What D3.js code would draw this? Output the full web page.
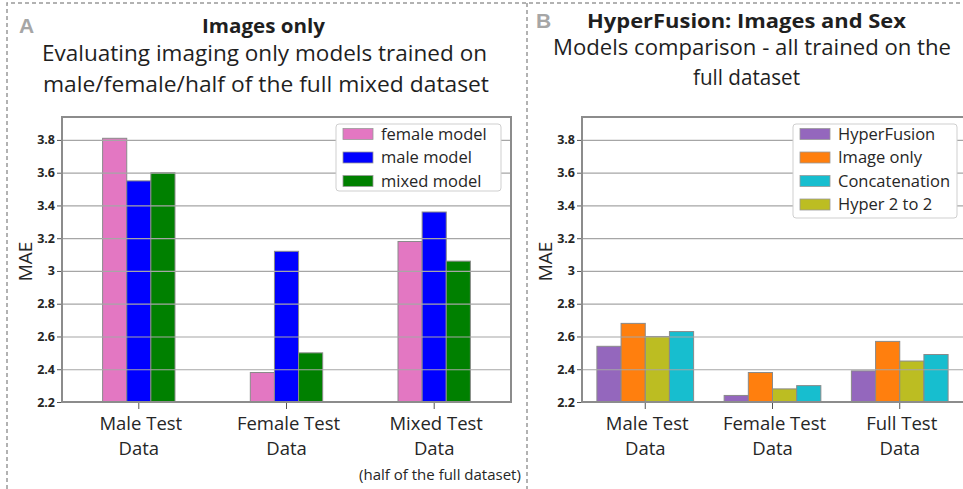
<!DOCTYPE html>
<html>
<head>
<meta charset="utf-8">
<script src="https://cdn.jsdelivr.net/npm/d3@7"></script>
<style>
  body { margin: 0; background: #fff; }
  text { font-family: "Open Sans", sans-serif; fill: #262626; }
</style>
</head>
<body>
<svg id="chart" width="963" height="489"></svg>
<script>
// shared y axis
const yTicks = [2.2, 2.4, 2.6, 2.8, 3.0, 3.2, 3.4, 3.6, 3.8];
const yTickLabels = ['2.2', '2.4', '2.6', '2.8', '3', '3.2', '3.4', '3.6', '3.8'];
const yDomain = [2.2, 3.94];

// panel A: images only
const groupsA = [['Male Test', 'Data'], ['Female Test', 'Data'], ['Mixed Test', 'Data']];
const seriesA = ['female model', 'male model', 'mixed model'];
const femaleModel = [3.81, 2.38, 3.18];
const maleModel = [3.55, 3.12, 3.36];
const mixedModel = [3.60, 2.50, 3.06];

// panel B: hyperfusion
const groupsB = [['Male Test', 'Data'], ['Female Test', 'Data'], ['Full Test', 'Data']];
const seriesB = ['HyperFusion', 'Image only', 'Hyper 2 to 2', 'Concatenation'];
const legendOrderB = ['HyperFusion', 'Image only', 'Concatenation', 'Hyper 2 to 2'];
const hyperFusion = [2.54, 2.24, 2.39];
const imageOnly = [2.68, 2.38, 2.57];
const hyper2to2 = [2.60, 2.28, 2.45];
const concatenation = [2.63, 2.30, 2.49];

const colors = {
  'female model': '#e377c2', 'male model': '#0000ff', 'mixed model': '#008000',
  'HyperFusion': '#9467bd', 'Image only': '#ff7f0e',
  'Hyper 2 to 2': '#bcbd22', 'Concatenation': '#17becf',
};

const svg = d3.select('#chart');
svg.append('rect').attr('width', 963).attr('height', 489).attr('fill', '#fff');

// dashed panel borders
svg.append('path')
  .attr('d', 'M7,489V3H963M527,3V489')
  .attr('fill', 'none')
  .attr('stroke', '#999')
  .attr('stroke-width', 1.5)
  .attr('stroke-dasharray', '4,3');

function drawPanel(p) {
  const g = svg.append('g');
  const y = d3.scaleLinear().domain(yDomain).range([p.bottom, p.top]);
  const x0 = d3.scaleBand()
    .domain(d3.range(p.groups.length))
    .range(p.band)
    .paddingOuter(p.pad);
  const gw = x0.bandwidth() * p.groupFrac;
  const x1 = d3.scaleBand().domain(p.series.map(s => s.name)).range([0, gw]);
  const left = p.left, right = p.right;

  // bars
  p.series.forEach(s => {
    g.selectAll(null)
      .data(s.values)
      .join('rect')
      .attr('x', (d, i) => x0(i) + (x0.bandwidth() - gw) / 2 + x1(s.name))
      .attr('y', d => y(d))
      .attr('width', x1.bandwidth())
      .attr('height', d => y(yDomain[0]) - y(d))
      .attr('fill', colors[s.name])
      .attr('stroke', '#8a8a8a')
      .attr('stroke-width', 1);
  });

  // grid lines sit on top of the bars
  g.append('g')
    .attr('transform', `translate(${left},0)`)
    .call(d3.axisLeft(y).tickValues(yTicks).tickSize(-(right - left)).tickFormat(''))
    .call(a => a.select('.domain').remove())
    .call(a => a.selectAll('line').attr('stroke', '#a6a6a6').attr('stroke-width', 1.2));

  // frame
  g.append('rect')
    .attr('x', left).attr('y', p.top)
    .attr('width', right - left).attr('height', p.bottom - p.top)
    .attr('fill', 'none')
    .attr('stroke', '#8c8c8c')
    .attr('stroke-width', 2);

  // y axis
  g.append('g')
    .attr('transform', `translate(${left - 1},0)`)
    .call(d3.axisLeft(y).tickValues(yTicks).tickSize(4).tickPadding(2)
      .tickFormat((d, i) => yTickLabels[i]))
    .call(a => a.select('.domain').remove())
    .call(a => a.selectAll('line').attr('stroke', '#555'))
    .call(a => a.selectAll('text')
      .style('font-family', '"Open Sans", sans-serif')
      .style('font-size', '12.5px')
      .style('font-weight', 'bold')
      .attr('fill', '#333'));

  g.append('text')
    .attr('transform', `translate(${p.maeX},${(p.top + p.bottom) / 2 + 2}) rotate(-90)`)
    .attr('text-anchor', 'middle')
    .attr('dy', '0.35em')
    .style('font-size', '19px')
    .text('MAE');

  // x axis ticks and two-line labels
  const xg = g.append('g');
  p.groups.forEach((lines, i) => {
    const cx = x0(i) + x0.bandwidth() / 2;
    xg.append('line')
      .attr('x1', cx).attr('x2', cx)
      .attr('y1', p.bottom + 1).attr('y2', p.bottom + 7)
      .attr('stroke', '#555');
    lines.forEach((t, j) => {
      xg.append('text')
        .attr('x', cx + (j === 0 ? 2 : 0))
        .attr('y', 430 + j * 25)
        .attr('text-anchor', 'middle')
        .style('font-size', '18.5px')
        .text(t);
    });
  });

  // legend
  const lg = g.append('g').attr('transform', `translate(${p.legend.x},${p.legend.y})`);
  lg.append('rect')
    .attr('width', p.legend.w)
    .attr('height', p.legend.h)
    .attr('rx', 3)
    .attr('fill', '#fff')
    .attr('stroke', '#cfcfcf');
  p.legendOrder.forEach((name, i) => {
    const ry = 10 + i * 23.5;
    lg.append('rect')
      .attr('x', 7).attr('y', ry - 5.5)
      .attr('width', 30).attr('height', 11)
      .attr('fill', colors[name])
      .attr('stroke', '#9a9a9a')
      .attr('stroke-width', 0.8);
    lg.append('text')
      .attr('x', 45).attr('y', ry)
      .attr('dy', '0.35em')
      .style('font-size', '16.5px')
      .text(name);
  });

  // panel letter and titles
  g.append('text')
    .attr('x', p.letterX).attr('y', p.titleY[0])
    .style('font-family', '"Liberation Sans", Arial, sans-serif')
    .style('font-size', '21px')
    .style('font-weight', 'bold')
    .style('fill', '#a6a6a6')
    .text(p.letter);

  p.titles.forEach((t, i) => {
    g.append('text')
      .attr('x', p.titleX[i])
      .attr('y', p.titleY[i])
      .attr('text-anchor', 'middle')
      .attr('textLength', p.titleW[i])
      .attr('lengthAdjust', 'spacingAndGlyphs')
      .style('font-size', i === 0 ? '20px' : '21px')
      .style('font-weight', i === 0 ? 'bold' : 'normal')
      .style('fill', '#1f1f1f')
      .text(t);
  });
}

drawPanel({
  groups: groupsA,
  series: [
    { name: seriesA[0], values: femaleModel },
    { name: seriesA[1], values: maleModel },
    { name: seriesA[2], values: mixedModel },
  ],
  legendOrder: seriesA,
  left: 62, right: 511, top: 117, bottom: 402,
  band: [62, 511], pad: 0.02, groupFrac: 0.49,
  maeX: 25,
  legend: { x: 336, y: 124, w: 165, h: 67 },
  letter: 'A', letterX: 19,
  titles: ['Images only', 'Evaluating imaging only models trained on',
    'male/female/half of the full mixed dataset'],
  titleX: [263.5, 264.5, 266],
  titleY: [33, 61, 92],
  titleW: [123, 445, 446],
});

drawPanel({
  groups: groupsB,
  series: seriesB.map((name, i) => ({
    name, values: [hyperFusion, imageOnly, hyper2to2, concatenation][i],
  })),
  legendOrder: legendOrderB,
  left: 582, right: 968, top: 117, bottom: 402,
  band: [581, 964], pad: 0.005, groupFrac: 0.76,
  maeX: 545,
  legend: { x: 793, y: 124, w: 164, h: 94 },
  letter: 'B', letterX: 536,
  titles: ['HyperFusion: Images and Sex', 'Models comparison - all trained on the',
    'full dataset'],
  titleX: [746.5, 752, 746.5],
  titleY: [28, 55, 85],
  titleW: [319, 398, 107],
});

svg.append('text')
  .attr('x', 440).attr('y', 480)
  .attr('text-anchor', 'middle')
  .style('font-size', '15px')
  .text('(half of the full dataset)');
</script>
</body>
</html>
